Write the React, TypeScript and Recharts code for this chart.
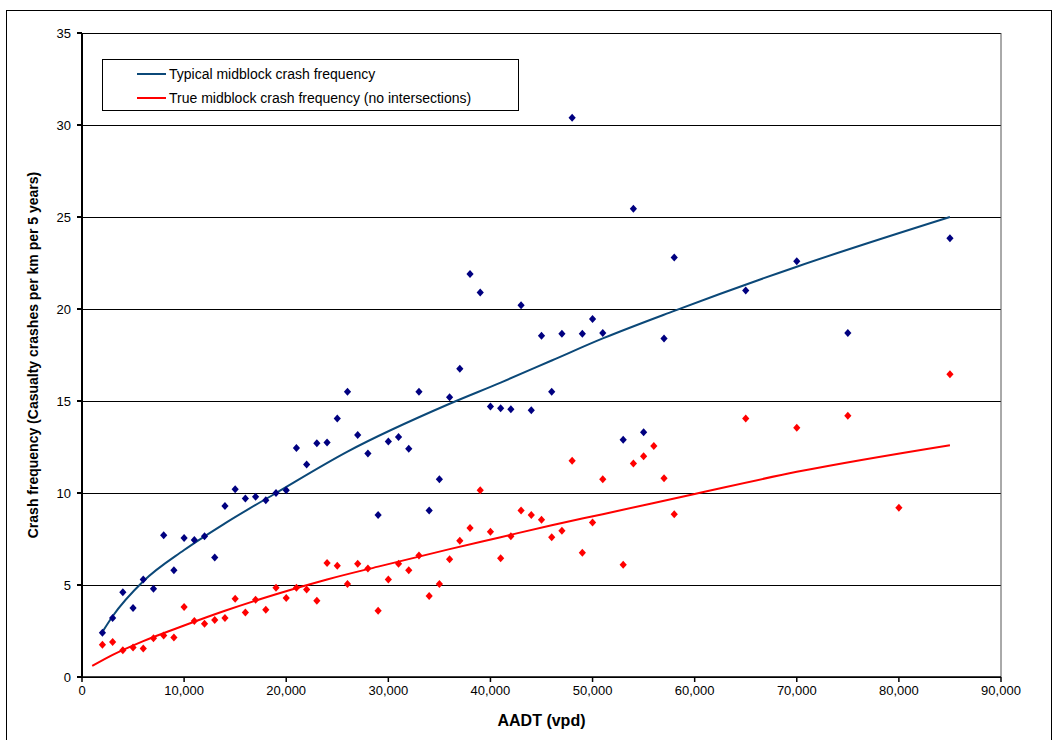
import {
  ComposedChart,
  Scatter,
  Line,
  XAxis,
  YAxis,
  CartesianGrid,
  ReferenceLine,
} from "recharts";

// AADT (vpd) of each road sample
const typicalAadt = [
  2000, 3000, 4000, 5000, 6000, 7000, 8000, 9000, 10000, 11000, 12000, 13000, 14000, 15000, 16000,
  17000, 18000, 19000, 20000, 21000, 22000, 23000, 24000, 25000, 26000, 27000, 28000, 29000, 30000,
  31000, 32000, 33000, 34000, 35000, 36000, 37000, 38000, 39000, 40000, 41000, 42000, 43000, 44000,
  45000, 46000, 47000, 48000, 49000, 50000, 51000, 53000, 54000, 55000, 57000, 58000, 65000, 70000,
  75000, 85000,
];
const typicalCrashes = [
  2.4, 3.2, 4.6, 3.75, 5.3, 4.8, 7.7, 5.8, 7.55, 7.45, 7.65, 6.5, 9.3, 10.2, 9.7, 9.8, 9.6, 10.0,
  10.15, 12.45, 11.55, 12.7, 12.75, 14.05, 15.5, 13.15, 12.15, 8.8, 12.8, 13.05, 12.4, 15.5, 9.05,
  10.75, 15.2, 16.75, 21.9, 20.9, 14.7, 14.6, 14.55, 20.2, 14.5, 18.55, 15.5, 18.65, 30.4, 18.65,
  19.45, 18.7, 12.9, 25.45, 13.3, 18.4, 22.8, 21.0, 22.6, 18.7, 23.85,
];

const trueAadt = [
  2000, 3000, 4000, 5000, 6000, 7000, 8000, 9000, 10000, 11000, 12000, 13000, 14000, 15000, 16000,
  17000, 18000, 19000, 20000, 21000, 22000, 23000, 24000, 25000, 26000, 27000, 28000, 29000, 30000,
  31000, 32000, 33000, 34000, 35000, 36000, 37000, 38000, 39000, 40000, 41000, 42000, 43000, 44000,
  45000, 46000, 47000, 48000, 49000, 50000, 51000, 53000, 54000, 55000, 56000, 57000, 58000, 65000,
  70000, 75000, 80000, 85000,
];
const trueCrashes = [
  1.75, 1.9, 1.45, 1.6, 1.55, 2.1, 2.25, 2.15, 3.8, 3.05, 2.9, 3.1, 3.2, 4.25, 3.5, 4.2, 3.65, 4.85,
  4.3, 4.85, 4.75, 4.15, 6.2, 6.05, 5.05, 6.15, 5.9, 3.6, 5.3, 6.15, 5.8, 6.6, 4.4, 5.05, 6.4, 7.4,
  8.1, 10.15, 7.9, 6.45, 7.65, 9.05, 8.8, 8.55, 7.6, 7.95, 11.75, 6.75, 8.4, 10.75, 6.1, 11.6, 12.0,
  12.55, 10.8, 8.85, 14.05, 13.55, 14.2, 9.2, 16.45,
];

// fitted curves
const typicalCurveAadt = [2000, 3000, 6000, 10000, 14000, 19000, 26000, 36000, 41000, 46000, 51000, 58000, 70000, 85000];
const typicalCurveCrashes = [2.45, 3.3, 5.2, 6.9, 8.35, 10.0, 12.25, 14.85, 16.0, 17.2, 18.4, 19.9, 22.3, 25.0];

const trueCurveAadt = [1000, 3000, 6000, 10000, 14000, 19000, 24000, 29000, 36000, 41000, 46000, 51000, 60000, 70000, 85000];
const trueCurveCrashes = [0.6, 1.2, 1.95, 2.8, 3.6, 4.5, 5.3, 6.0, 6.95, 7.6, 8.25, 8.85, 9.95, 11.15, 12.6];

const xTicks = [0, 10000, 20000, 30000, 40000, 50000, 60000, 70000, 80000, 90000];
const yTicks = [0, 5, 10, 15, 20, 25, 30, 35];

const zip = (xs: number[], ys: number[]) => xs.map((x, i) => ({ x, y: ys[i] }));

const typicalPoints = zip(typicalAadt, typicalCrashes);
const truePoints = zip(trueAadt, trueCrashes);
const typicalCurve = zip(typicalCurveAadt, typicalCurveCrashes);
const trueCurve = zip(trueCurveAadt, trueCurveCrashes);

const FONT = "'Liberation Sans', Arial, sans-serif";

const legendItems = [
  { label: "Typical midblock crash frequency", color: "#0B4878" },
  { label: "True midblock crash frequency (no intersections)", color: "#FF0000" },
];

function LegendBox() {
  return (
    <div
      style={{
        position: "absolute",
        left: 102,
        top: 59,
        border: "1px solid #000",
        background: "#fff",
        fontFamily: FONT,
        fontSize: 14,
        color: "#000",
        padding: "2px 0 0 34px",
        boxSizing: "border-box",
        width: 417,
        height: 52,
      }}
    >
      {legendItems.map((it) => (
        <div key={it.label} style={{ display: "flex", alignItems: "center", height: 24 }}>
          <span style={{ display: "inline-block", width: 29, height: 2, background: it.color, marginRight: 3 }} />
          <span>{it.label}</span>
        </div>
      ))}
    </div>
  );
}

const diamond = (color: string) => (p: any) => {
  const { cx, cy } = p;
  if (cx == null || cy == null) return <g />;
  return <polygon points={`${cx},${cy - 4} ${cx + 3.6},${cy} ${cx},${cy + 4} ${cx - 3.6},${cy}`} fill={color} />;
};

const fmt = (v: number) => v.toLocaleString("en-US");

export default function App() {
  return (
    <div style={{ position: "absolute", left: 0, top: 0, width: 1058, height: 740, background: "#fff" }}>
      <div
        style={{
          position: "absolute",
          left: 6,
          top: 10,
          width: 1046,
          height: 740,
          border: "1px solid #000",
          boxSizing: "border-box",
        }}
      />
      <ComposedChart
        width={1058}
        height={740}
        margin={{ top: 33, right: 57, bottom: 23, left: 22 }}
        style={{ position: "absolute", left: 0, top: 0 }}
      >
        <CartesianGrid vertical={false} stroke="#000" strokeWidth={1} shapeRendering="crispEdges" />
        <XAxis
          type="number"
          dataKey="x"
          domain={[0, 90000]}
          ticks={xTicks}
          tickFormatter={fmt}
          height={40}
          tickSize={5}
          tickMargin={4}
          stroke="#000"
          strokeWidth={1.5}
          tick={{ fill: "#000", fontSize: 13, fontFamily: FONT }}
          label={{
            content: (p: any) => (
              <text
                x={p.viewBox.x + p.viewBox.width / 2}
                y={720}
                textAnchor="middle"
                dominantBaseline="central"
                style={{ fontFamily: FONT, fontSize: 16, fontWeight: "bold", fill: "#000" }}
              >
                AADT (vpd)
              </text>
            ),
          }}
        />
        <YAxis
          type="number"
          dataKey="y"
          domain={[0, 35]}
          ticks={yTicks}
          width={60}
          tickSize={5}
          tickMargin={6}
          stroke="#000"
          strokeWidth={2}
          tick={{ fill: "#000", fontSize: 13, fontFamily: FONT }}
          label={{
            content: (p: any) => (
              <text
                x={33}
                y={p.viewBox.y + p.viewBox.height / 2}
                textAnchor="middle"
                dominantBaseline="central"
                transform={`rotate(-90 33 ${p.viewBox.y + p.viewBox.height / 2})`}
                style={{ fontFamily: FONT, fontSize: 14, fontWeight: "bold", fill: "#000" }}
              >
                Crash frequency (Casualty crashes per km per 5 years)
              </text>
            ),
          }}
        />
        <ReferenceLine x={90000} stroke="#555" strokeWidth={1} />
        <Scatter
          name="typical points"
          data={typicalPoints}
          fill="#000080"
          shape={diamond("#000080")}
          isAnimationActive={false}
        />
        <Scatter
          name="true points"
          data={truePoints}
          fill="#FF0000"
          shape={diamond("#FF0000")}
          isAnimationActive={false}
        />
        <Line
          data={typicalCurve}
          dataKey="y"
          type="monotone"
          stroke="#0B4878"
          strokeWidth={2}
          dot={false}
          activeDot={false}
          isAnimationActive={false}
        />
        <Line
          data={trueCurve}
          dataKey="y"
          type="monotone"
          stroke="#FF0000"
          strokeWidth={2}
          dot={false}
          activeDot={false}
          isAnimationActive={false}
        />
      </ComposedChart>
      <LegendBox />
    </div>
  );
}
